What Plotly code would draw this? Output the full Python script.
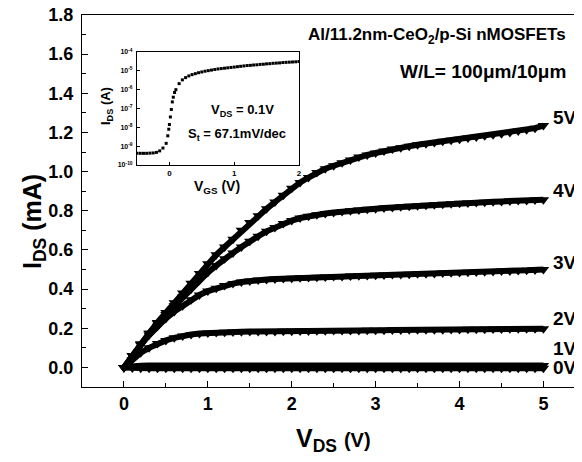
import plotly.graph_objects as go

# ---------------- data ----------------
vds = [round(i * 0.1, 1) for i in range(51)]

ids_5v = [0.00, 0.06, 0.12, 0.175, 0.23, 0.28, 0.33, 0.38, 0.43, 0.48,
          0.53, 0.575, 0.615, 0.655, 0.70, 0.74, 0.775, 0.81, 0.845, 0.88,
          0.915, 0.945, 0.97, 0.995, 1.015, 1.03, 1.045, 1.06, 1.075, 1.085,
          1.095, 1.105, 1.115, 1.122, 1.13, 1.137, 1.143, 1.149, 1.155, 1.16,
          1.166, 1.172, 1.177, 1.183, 1.188, 1.194, 1.20, 1.207, 1.214, 1.222,
          1.235]
ids_4v = [0.00, 0.06, 0.12, 0.175, 0.225, 0.27, 0.315, 0.36, 0.40, 0.445,
          0.485, 0.52, 0.555, 0.585, 0.615, 0.645, 0.67, 0.695, 0.715, 0.735,
          0.75, 0.763, 0.772, 0.78, 0.786, 0.791, 0.796, 0.80, 0.804, 0.808,
          0.811, 0.814, 0.817, 0.82, 0.823, 0.826, 0.828, 0.831, 0.833, 0.836,
          0.838, 0.84, 0.842, 0.844, 0.846, 0.848, 0.85, 0.852, 0.853, 0.855,
          0.857]
ids_3v = [0.00, 0.06, 0.115, 0.165, 0.21, 0.25, 0.285, 0.315, 0.345, 0.37,
          0.39, 0.405, 0.418, 0.428, 0.436, 0.442, 0.446, 0.449, 0.452, 0.454,
          0.456, 0.458, 0.459, 0.461, 0.462, 0.464, 0.465, 0.467, 0.468, 0.469,
          0.471, 0.472, 0.474, 0.475, 0.476, 0.478, 0.479, 0.48, 0.482, 0.483,
          0.485, 0.486, 0.487, 0.489, 0.49, 0.492, 0.493, 0.495, 0.496, 0.498,
          0.50]
ids_2v = [0.00, 0.04, 0.075, 0.10, 0.122, 0.138, 0.151, 0.161, 0.168, 0.173,
          0.176, 0.178, 0.18, 0.181, 0.182, 0.183, 0.183, 0.184, 0.184, 0.185,
          0.185, 0.186, 0.186, 0.187, 0.187, 0.188, 0.188, 0.189, 0.189, 0.19,
          0.19, 0.19, 0.191, 0.191, 0.192, 0.192, 0.193, 0.193, 0.193, 0.194,
          0.194, 0.195, 0.195, 0.195, 0.196, 0.196, 0.197, 0.197, 0.197, 0.198,
          0.198]
ids_1v = [0.00, 0.006, 0.009] + [0.01] * 48
ids_0v = [0.00, -0.003] + [-0.004] * 49

series = [("5V", ids_5v), ("4V", ids_4v), ("3V", ids_3v),
          ("2V", ids_2v), ("1V", ids_1v), ("0V", ids_0v)]

# inset: transfer characteristic, VDS = 0.1 V (log10 of IDS in A)
vgs = [-0.50, -0.45, -0.40, -0.35, -0.30, -0.25, -0.20, -0.15, -0.10, -0.05,
       -0.025, -0.01, 0.00, 0.015, 0.03, 0.045, 0.06, 0.08, 0.10, 0.15,
       0.20, 0.25, 0.30, 0.35, 0.40, 0.45, 0.50, 0.55, 0.60, 0.65,
       0.70, 0.75, 0.80, 0.85, 0.90, 0.95, 1.00, 1.05, 1.10, 1.15,
       1.20, 1.25, 1.30, 1.35, 1.40, 1.45, 1.50, 1.55, 1.60, 1.65,
       1.70, 1.75, 1.80, 1.85, 1.90, 1.95, 2.00]
log_ids = [-9.38, -9.38, -9.38, -9.38, -9.37, -9.36, -9.33, -9.25, -9.1, -8.85,
           -8.45, -8.1, -7.85, -7.45, -7.05, -6.65, -6.4, -6.15, -6.0, -5.68,
           -5.48, -5.36, -5.27, -5.2, -5.15, -5.1, -5.06, -5.02, -4.99, -4.96,
           -4.93, -4.9, -4.88, -4.86, -4.84, -4.82, -4.8, -4.78, -4.76, -4.74,
           -4.72, -4.71, -4.69, -4.68, -4.66, -4.65, -4.63, -4.62, -4.6, -4.59,
           -4.58, -4.56, -4.55, -4.54, -4.53, -4.52, -4.51]
inset_ids = [10 ** v for v in log_ids]

y_ticks = [0.0, 0.2, 0.4, 0.6, 0.8, 1.0, 1.2, 1.4, 1.6, 1.8]
x_ticks = [0, 1, 2, 3, 4, 5]
inset_exps = [-4, -5, -6, -7, -8, -9, -10]

# ---------------- figure ----------------
# the page body adds an 8px margin, so the figure is laid out in
# screen pixels shifted by that offset
OFF = 8
W, H = 582 - OFF, 462 - OFF
SL, ST, SB = 82, 15, 387          # plot box in screen pixels
ML, MR, MT, MB = SL - OFF, 0, ST - OFF, 462 - SB
PW, PH = W - ML - MR, H - MT - MB

def px(sx):
    return (sx - OFF - ML) / PW

def py(sy):
    return (H - MB - (sy - OFF)) / PH

FONT = "Liberation Sans, Arial, sans-serif"

fig = go.Figure()
for name, vals in series:
    fig.add_trace(go.Scatter(
        x=vds, y=vals, mode="lines+markers", name=name,
        line=dict(color="black", width=6),
        marker=dict(symbol="triangle-down", size=10, color="black"),
        showlegend=False, xaxis="x", yaxis="y"))

fig.add_trace(go.Scatter(
    x=vgs, y=inset_ids, mode="markers",
    marker=dict(symbol="square", size=3, color="black"),
    showlegend=False, xaxis="x2", yaxis="y2"))

axis_common = dict(showgrid=False, zeroline=False, linecolor="black",
                   ticks="inside", tickcolor="black", showline=True,
                   automargin=False, ticklabeloverflow="allow")

fig.update_layout(
    width=W, height=H,
    margin=dict(l=ML, r=MR, t=MT, b=MB),
    paper_bgcolor="white", plot_bgcolor="white",
    font=dict(family=FONT, color="black"),
    xaxis=dict(domain=[0, 1], range=[-0.5, 5.46], tickvals=x_ticks,
               ticklen=6, mirror=True, linewidth=1.3,
               minor=dict(dtick=0.5, ticks="inside", ticklen=4, tickcolor="black"),
               tickfont=dict(size=18, family=FONT, weight="bold"),
               **axis_common),
    yaxis=dict(domain=[0, 1], range=[-0.1, 1.8], tickvals=y_ticks,
               ticktext=[f"{v:.1f}" for v in y_ticks],
               ticklen=6, ticklabelstandoff=4, linewidth=1.3,
               minor=dict(dtick=0.1, ticks="inside", ticklen=4, tickcolor="black"),
               tickfont=dict(size=18, family=FONT, weight="bold"),
               **axis_common),
    xaxis2=dict(domain=[px(137), px(299)], anchor="y2", range=[-0.5, 2.0],
                tickvals=[0, 1, 2], ticklen=3, mirror=True, linewidth=1,
                tickfont=dict(size=8, family=FONT, weight="bold"),
                **axis_common),
    yaxis2=dict(domain=[py(165), py(52)], anchor="x2", type="log",
                range=[-10, -4], tickvals=[10 ** e for e in inset_exps],
                ticktext=[f"10<sup>{e}</sup>" for e in inset_exps],
                ticklen=3, mirror=True, ticklabelstandoff=2, linewidth=1,
                tickfont=dict(size=7, family=FONT, weight="bold"),
                **axis_common),
)

def note(text, x, y, size, xanchor="center", yanchor="middle", angle=0):
    fig.add_annotation(text=text, x=px(x), y=py(y), xref="paper", yref="paper",
                       xanchor=xanchor, yanchor=yanchor, showarrow=False,
                       textangle=angle,
                       font=dict(size=size, family=FONT, weight="bold", color="black"))

note("Al/11.2nm-CeO<sub>2</sub>/p-Si nMOSFETs", 568, 36, 17, xanchor="right")
note("W/L= 100μm/10μm", 568, 72, 19, xanchor="right")
for label, yy in [("5V", 118), ("4V", 190), ("3V", 262), ("2V", 318),
                  ("1V", 348), ("0V", 367)]:
    note(label, 551, yy, 19, xanchor="left")

note("V<sub>DS</sub> = 0.1V", 242, 110, 13)
note("S<sub>t</sub> = 67.1mV/dec", 237, 134, 13)
note("V<sub>GS</sub> (V)", 217, 187, 14)
note("I<sub>DS</sub> (A)", 106, 106, 13, angle=-90)

note("I<sub>DS</sub> (mA)", 34, 222, 25, angle=-90)
note("V<sub>DS</sub> <span style='font-size:20px'>(V)</span>", 333, 440, 25)

fig.write_html("out.html")
